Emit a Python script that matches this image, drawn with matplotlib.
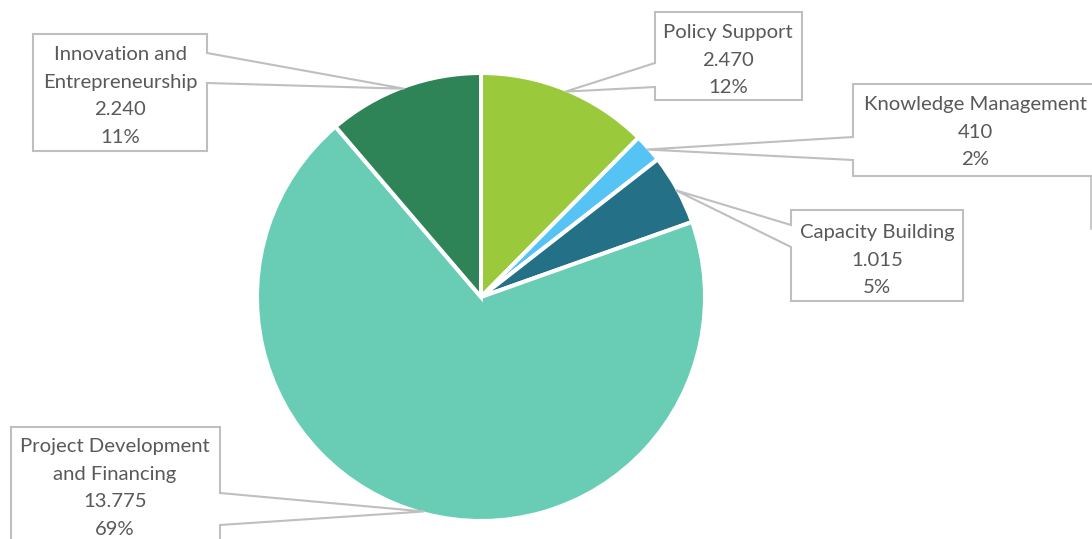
import numpy as np
import matplotlib.pyplot as plt
from matplotlib.patches import Polygon

categories = ['Policy Support', 'Knowledge Management', 'Capacity Building',
              'Project Development\nand Financing', 'Innovation and\nEntrepreneurship']
values = [2470, 410, 1015, 13775, 2240]
colors = ['#9ACA3C', '#55C4F5', '#237087', '#68CDB4', '#2E8457']

W, H = 1092, 539

# label boxes in pixel coords (top-left origin): x0, y0, x1, y1, side of the pointer, pointer gap
boxes = [
    (655, 12, 802, 100, 'left', (63, 87)),
    (853, 84, 1110, 176, 'left', (137, 160)),
    (791, 210, 963, 301, 'left', (225, 247)),
    (11, 427, 220, 580, 'right', (493, 525)),
    (33, 34, 207, 151, 'right', (53, 83)),
]
text_y = [60, 132, 260, 488, 96]
text_x = [728, 975, 877, 115, 120]


def fmt(v):
    return '{:,}'.format(v).replace(',', '.')


fig = plt.figure(figsize=(W / 100, H / 100), dpi=100)
ax = fig.add_axes([0, 0, 1, 1])

wedges, _ = ax.pie(values, colors=colors, startangle=90, counterclock=False,
                   center=(481, H - 297), radius=224,
                   wedgeprops=dict(edgecolor='white', linewidth=2.9))
ax.set_xlim(0, W)
ax.set_ylim(0, H)
ax.set_aspect('equal')
ax.axis('off')

total = sum(values)
for w, name, v, (x0, y0, x1, y1, side, (ga, gb)), tx, ty in zip(wedges, categories, values, boxes,
                                                                text_x, text_y):
    mid = np.radians((w.theta1 + w.theta2) / 2)
    tip = (w.center[0] + (w.r - 2) * np.cos(mid), w.center[1] + (w.r - 2) * np.sin(mid))
    if side == 'left':
        pts = [(x0, y0), (x1, y0), (x1, y1), (x0, y1), (x0, gb), 'tip', (x0, ga)]
    else:
        pts = [(x0, y0), (x1, y0), (x1, ga), 'tip', (x1, gb), (x1, y1), (x0, y1)]
    verts = [tip if p == 'tip' else (p[0], H - p[1]) for p in pts]
    ax.add_patch(Polygon(verts, closed=True, facecolor='white', edgecolor='#BFBFBF',
                         linewidth=1.5, zorder=3))
    pct = round(100 * v / total)
    label = '{}\n{}\n{}%'.format(name, fmt(v), pct)
    ax.text(tx, H - ty, label, ha='center', va='center',
            fontsize=14.6, family='Lato', color='#595959', linespacing=1.74, zorder=4)

# edge of a box cut off at the right border
ax.plot([1091, 1091], [H - 150, H - 229], color='#BFBFBF', linewidth=1.2)

fig.savefig('out.png', dpi=100)
